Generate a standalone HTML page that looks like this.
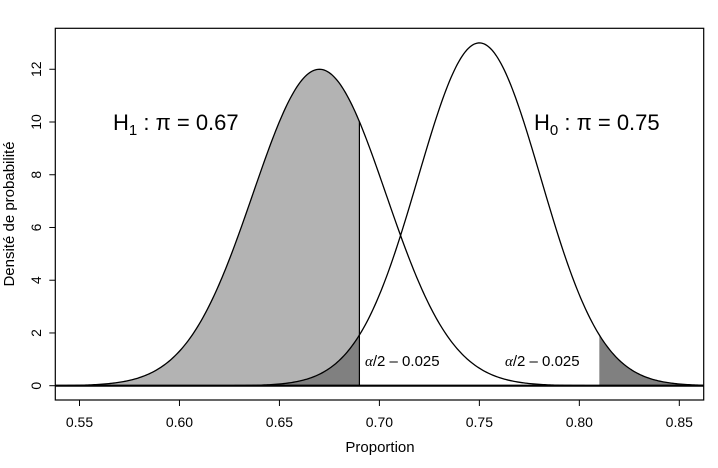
<!DOCTYPE html>
<html><head><meta charset="utf-8"><style>
html,body{margin:0;padding:0;background:#fff;}
svg{display:block;font-family:"Liberation Sans",Arial,sans-serif;}
</style></head><body>
<svg id="chart" width="718" height="468" viewBox="0 0 718 468" xmlns="http://www.w3.org/2000/svg">
<g id="marks"></g>
<g id="axes"></g>
</svg>
<script>
const hypNames = ["H1", "H0"];
const hypMeans = [0.67, 0.75];
const hypPeaks = [12.0, 13.0];
const critValues = [0.69, 0.81];
const xTicks = [0.55, 0.60, 0.65, 0.70, 0.75, 0.80, 0.85];
const yTicks = [0, 2, 4, 6, 8, 10, 12];

const L=55.3,R=703.7,T=28.3,B=400;
const xMin=0.5379,xMax=0.8622;
const X=v=>L+(v-xMin)/(xMax-xMin)*(R-L);
const Y=v=>385.7-v*26.37;
const NS="http://www.w3.org/2000/svg";
const marks=document.getElementById('marks'), axes=document.getElementById('axes');
function mk(tag,attrs,parent){const e=document.createElementNS(NS,tag);for(const k in attrs)e.setAttribute(k,attrs[k]);parent.appendChild(e);return e;}
function dens(i,x){const sd=1/(hypPeaks[i]*Math.sqrt(2*Math.PI));return hypPeaks[i]*Math.exp(-0.5*((x-hypMeans[i])/sd)**2);}
function areaPath(i,a,b){let d=`M${X(a)},${Y(0)}`;const n=200;for(let k=0;k<=n;k++){const x=a+(b-a)*k/n;d+=` L${X(x).toFixed(2)},${Y(dens(i,x)).toFixed(2)}`;}return d+` L${X(b)},${Y(0)} Z`;}
function curvePath(i){let d='';const n=400;for(let k=0;k<=n;k++){const x=xMin+(xMax-xMin)*k/n;d+=(k?' L':'M')+X(x).toFixed(2)+','+Y(dens(i,x)).toFixed(2);}return d;}

let p=mk('path',{d:areaPath(0,xMin,critValues[0]),fill:'#b3b3b3',stroke:'none'},marks);


p=mk('path',{d:areaPath(1,xMin,critValues[0]),fill:'#808080',stroke:'none'},marks);


p=mk('path',{d:areaPath(1,critValues[1],xMax),fill:'#808080',stroke:'none'},marks);


hypNames.forEach((n,i)=>{
  const c=mk('path',{d:curvePath(i),fill:'none',stroke:'#000','stroke-width':1.3},marks);
  
  
});
let vl=mk('line',{x1:X(critValues[0]),x2:X(critValues[0]),y1:Y(0),y2:Y(dens(0,critValues[0])),stroke:'#000','stroke-width':1.2},marks);


let bl=mk('line',{x1:L,x2:R,y1:Y(0),y2:Y(0),stroke:'#000','stroke-width':2.2},marks);



let box=mk('rect',{x:L,y:T,width:R-L,height:B-T,fill:'none',stroke:'#000','stroke-width':1.2},axes);


xTicks.forEach(v=>{
  const t=mk('line',{x1:X(v),x2:X(v),y1:B,y2:B+6,stroke:'#000'},axes);
  
  
  const l=mk('text',{x:X(v),y:427,'text-anchor':'middle','font-size':14},axes);
  l.textContent=v.toFixed(2);
  
  
});
yTicks.forEach(v=>{
  const t=mk('line',{x1:L,x2:L-6,y1:Y(v),y2:Y(v),stroke:'#000'},axes);
  
  
  const l=mk('text',{x:41,y:Y(v),'text-anchor':'middle','font-size':14,transform:`rotate(-90 41 ${Y(v)})`},axes);
  l.textContent=String(v);
  
  
});
</script>
<svg width="0" height="0"></svg>
<div style="position:absolute;left:0;top:0;width:718px;height:468px;pointer-events:none">
<svg width="718" height="468" style="font-family:'Liberation Sans',Arial,sans-serif">
<text x="380" y="452" text-anchor="middle" font-size="15">Proportion</text>
<text x="14" y="214" text-anchor="middle" font-size="15" transform="rotate(-90 14 214)">Densité de probabilité</text>
<text x="113" y="130" font-size="22">H<tspan font-size="15" dy="5">1</tspan><tspan dy="-5"> :  π = 0.67</tspan></text>
<text x="534" y="130" font-size="22">H<tspan font-size="15" dy="5">0</tspan><tspan dy="-5"> :  π = 0.75</tspan></text>
<text x="365" y="366" font-size="15"><tspan font-family="Liberation Serif" font-style="italic">α</tspan>/2 – 0.025</text>
<text x="505" y="366" font-size="15"><tspan font-family="Liberation Serif" font-style="italic">α</tspan>/2 – 0.025</text>
</svg></div>
</body></html>
